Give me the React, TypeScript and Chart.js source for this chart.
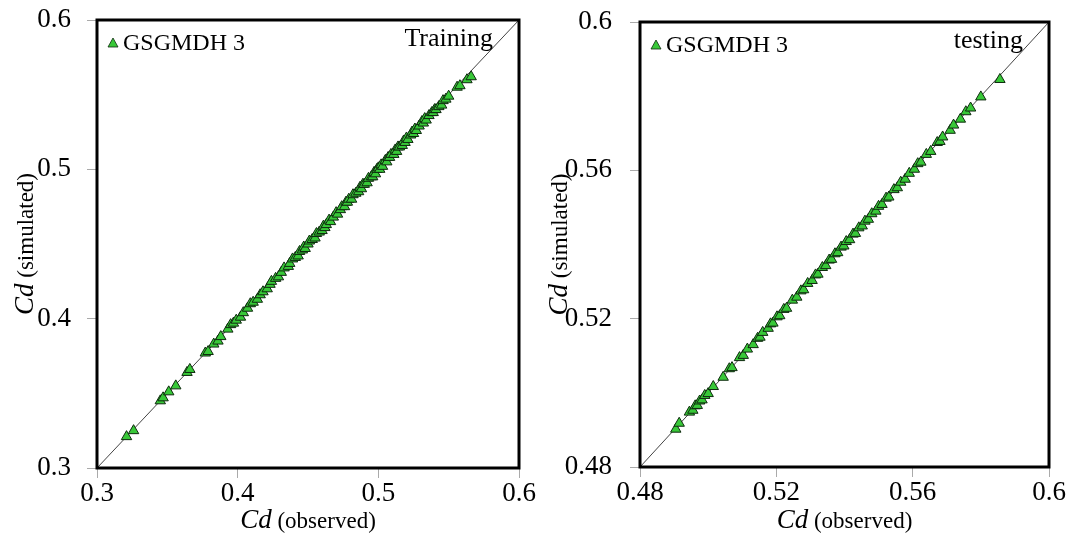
import React, { useEffect, useRef } from "react";
import { Chart, registerables } from "chart.js";

Chart.register(...registerables);

const FONT = "'Liberation Serif', 'Times New Roman', serif";

// ---------- Training panel ----------
const trainTicks = [0.3, 0.4, 0.5, 0.6];
const trainObserved = [
  0.321, 0.326, 0.345, 0.347, 0.351, 0.356, 0.364, 0.366, 0.377, 0.379,
  0.383, 0.386, 0.388, 0.393, 0.395, 0.397, 0.399, 0.402, 0.404, 0.407,
  0.409, 0.411, 0.414, 0.416, 0.418, 0.421, 0.423, 0.424, 0.427, 0.429,
  0.431, 0.433, 0.436, 0.437, 0.439, 0.441, 0.443, 0.444, 0.446, 0.447,
  0.448, 0.45, 0.451, 0.453, 0.455, 0.456, 0.458, 0.46, 0.461, 0.462,
  0.463, 0.465, 0.466, 0.468, 0.47, 0.471, 0.473, 0.474, 0.476, 0.477,
  0.478, 0.479, 0.481, 0.482, 0.484, 0.486, 0.487, 0.488, 0.489, 0.49,
  0.492, 0.493, 0.495, 0.496, 0.497, 0.498, 0.499, 0.5, 0.501, 0.502,
  0.503, 0.505, 0.506, 0.507, 0.508, 0.509, 0.511, 0.512, 0.513, 0.514,
  0.515, 0.517, 0.518, 0.519, 0.52, 0.521, 0.523, 0.524, 0.525, 0.526,
  0.527, 0.529, 0.531, 0.532, 0.533, 0.534, 0.536, 0.538, 0.539, 0.54,
  0.541, 0.543, 0.545, 0.546, 0.548, 0.55, 0.556, 0.558, 0.563, 0.566,
];
const trainSimulated = [
  0.321, 0.325, 0.345, 0.347, 0.351, 0.355, 0.364, 0.366, 0.377, 0.378,
  0.383, 0.385, 0.388, 0.393, 0.396, 0.397, 0.399, 0.401, 0.404, 0.407,
  0.41, 0.411, 0.413, 0.416, 0.418, 0.42, 0.423, 0.425, 0.427, 0.428,
  0.431, 0.434, 0.435, 0.437, 0.44, 0.441, 0.442, 0.445, 0.446, 0.448,
  0.447, 0.45, 0.452, 0.453, 0.454, 0.457, 0.458, 0.459, 0.462, 0.461,
  0.463, 0.466, 0.465, 0.468, 0.471, 0.47, 0.473, 0.475, 0.475, 0.478,
  0.478, 0.48, 0.48, 0.483, 0.484, 0.485, 0.488, 0.487, 0.49, 0.49,
  0.491, 0.494, 0.495, 0.495, 0.498, 0.497, 0.5, 0.501, 0.5, 0.503,
  0.502, 0.506, 0.505, 0.508, 0.508, 0.51, 0.51, 0.513, 0.512, 0.515,
  0.515, 0.516, 0.519, 0.518, 0.521, 0.52, 0.523, 0.525, 0.524, 0.527,
  0.526, 0.529, 0.532, 0.531, 0.534, 0.533, 0.536, 0.538, 0.538, 0.54,
  0.54, 0.542, 0.543, 0.546, 0.547, 0.549, 0.555, 0.556, 0.56, 0.562,
];

// ---------- Testing panel ----------
const testTicks = [0.48, 0.52, 0.56, 0.6];
const testObserved = [
  0.4905, 0.4915, 0.4945, 0.4955, 0.4962, 0.4968, 0.4975, 0.4982, 0.499, 0.5,
  0.5015, 0.5044, 0.5062, 0.507, 0.5092, 0.5103, 0.5115, 0.5132, 0.5145, 0.5152,
  0.516, 0.5176, 0.5183, 0.519, 0.5202, 0.521, 0.5222, 0.523, 0.5247, 0.526,
  0.5272, 0.528, 0.5292, 0.5305, 0.5315, 0.5322, 0.5335, 0.5345, 0.5355, 0.5362,
  0.5372, 0.538, 0.539, 0.5398, 0.5405, 0.5415, 0.5425, 0.5432, 0.5442, 0.5452,
  0.546, 0.547, 0.548, 0.5492, 0.55, 0.551, 0.5522, 0.553, 0.5545, 0.5555,
  0.5565, 0.5578, 0.559, 0.5605, 0.5615, 0.5624, 0.564, 0.5653, 0.5672, 0.568,
  0.5688, 0.571, 0.572, 0.574, 0.5756, 0.577, 0.58, 0.5856,
];
const testSimulated = [
  0.4902, 0.4918, 0.4948, 0.4953, 0.4965, 0.4966, 0.4978, 0.4981, 0.4993, 0.4998,
  0.5017, 0.5042, 0.5065, 0.5068, 0.5095, 0.5101, 0.5118, 0.513, 0.5147, 0.515,
  0.5163, 0.5174, 0.5186, 0.5188, 0.5205, 0.5208, 0.5225, 0.5228, 0.525, 0.5258,
  0.5275, 0.5278, 0.5295, 0.5303, 0.5318, 0.532, 0.5338, 0.5343, 0.5358, 0.536,
  0.5375, 0.5378, 0.5393, 0.5396, 0.5408, 0.5413, 0.5428, 0.543, 0.5445, 0.545,
  0.5463, 0.5468, 0.5483, 0.549, 0.5503, 0.5508, 0.5525, 0.5528, 0.5548, 0.5553,
  0.5568, 0.5576, 0.5592, 0.5603, 0.5618, 0.5622, 0.5643, 0.5651, 0.5675, 0.5678,
  0.569, 0.5708, 0.5722, 0.5738, 0.5758, 0.5768, 0.5798, 0.5845,
];

const seriesLabel = "GSGMDH 3";

type PanelCfg = {
  ticks: number[];
  observed: number[];
  simulated: number[];
  corner: string;
  width: number;
  yAxisWidth: number;
  padRight: number;
  padTop: number;
  xAxisHeight: number;
  yTickPad: number;
  yTitleX: number;
};

const GREEN = "#38c838";
const GREEN_EDGE = "#0e2a0e";

function drawMixed(ctx: CanvasRenderingContext2D, cx: number, by: number, a: string, b: string) {
  ctx.font = `italic 27px ${FONT}`;
  const w1 = ctx.measureText(a).width;
  ctx.font = `23px ${FONT}`;
  const w2 = ctx.measureText(b).width;
  const start = cx - (w1 + w2) / 2;
  ctx.textAlign = "left";
  ctx.textBaseline = "alphabetic";
  ctx.fillStyle = "#000";
  ctx.font = `italic 27px ${FONT}`;
  ctx.fillText(a, start, by);
  ctx.font = `23px ${FONT}`;
  ctx.fillText(b, start + w1, by);
}

function Panel({ cfg }: { cfg: PanelCfg }) {
  const ref = useRef<HTMLCanvasElement>(null);
  useEffect(() => {
    if (!ref.current) return;
    const lo = cfg.ticks[0];
    const hi = cfg.ticks[cfg.ticks.length - 1];
    const decor = {
      id: "decor",
      afterDraw(chart: any) {
        const ctx: CanvasRenderingContext2D = chart.ctx;
        const a = chart.chartArea;
        ctx.save();
        // frame
        ctx.strokeStyle = "#000";
        ctx.lineWidth = 3;
        ctx.strokeRect(a.left, a.top, a.right - a.left, a.bottom - a.top);
        // legend
        const mx = a.left + 16;
        const my = a.top + 23;
        ctx.beginPath();
        ctx.moveTo(mx, my - 5);
        ctx.lineTo(mx + 5, my + 4);
        ctx.lineTo(mx - 5, my + 4);
        ctx.closePath();
        ctx.fillStyle = GREEN;
        ctx.fill();
        ctx.lineWidth = 0.8;
        ctx.strokeStyle = GREEN_EDGE;
        ctx.stroke();
        ctx.fillStyle = "#000";
        ctx.font = `24px ${FONT}`;
        ctx.textAlign = "left";
        ctx.textBaseline = "middle";
        ctx.fillText(chart.data.datasets[0].label, a.left + 26, my + 1);
        // corner label
        ctx.font = `26px ${FONT}`;
        ctx.textAlign = "right";
        ctx.textBaseline = "alphabetic";
        ctx.fillText(cfg.corner, a.right - 26, a.top + 26);
        // x title
        drawMixed(ctx, (a.left + a.right) / 2, chart.height - 7, "Cd", " (observed)");
        // y title
        ctx.translate(cfg.yTitleX + 9, (a.top + a.bottom) / 2);
        ctx.rotate(-Math.PI / 2);
        drawMixed(ctx, 0, 0, "Cd", " (simulated)");
        ctx.restore();
      },
    };
    const pts = cfg.observed.map((x, i) => ({ x, y: cfg.simulated[i] }));
    const chart = new Chart(ref.current, {
      type: "scatter",
      data: {
        datasets: [
          {
            label: seriesLabel,
            data: pts,
            pointStyle: "triangle",
            pointRadius: 6,
            backgroundColor: GREEN,
            borderColor: GREEN_EDGE,
            borderWidth: 1,
          },
          {
            label: "1:1",
            data: [
              { x: lo, y: lo },
              { x: hi, y: hi },
            ],
            showLine: true,
            pointRadius: 0,
            borderColor: "#444",
            borderWidth: 1,
          },
        ],
      },
      options: {
        responsive: false,
        animation: false,
        layout: { padding: { left: 0, right: cfg.padRight, top: cfg.padTop, bottom: 0 } },
        plugins: { legend: { display: false }, tooltip: { enabled: false } },
        scales: {
          x: {
            type: "linear",
            min: lo,
            max: hi,
            afterBuildTicks: (s: any) => {
              s.ticks = cfg.ticks.map((v) => ({ value: v }));
            },
            afterFit: (s: any) => {
              s.height = cfg.xAxisHeight;
              s.paddingLeft = 0;
              s.paddingRight = 0;
              s.paddingTop = 0;
              s.paddingBottom = 0;
            },
            ticks: {
              callback: (v: any) => String(v),
              font: { family: FONT, size: 27 },
              color: "#000",
              padding: 0,
              maxRotation: 0,
            },
            grid: { drawOnChartArea: false, drawTicks: true, tickLength: 10, color: "#aaa" },
            border: { display: false },
          },
          y: {
            type: "linear",
            min: lo,
            max: hi,
            afterBuildTicks: (s: any) => {
              s.ticks = cfg.ticks.map((v) => ({ value: v }));
            },
            afterFit: (s: any) => {
              s.width = cfg.yAxisWidth;
              s.paddingLeft = 0;
              s.paddingRight = 0;
              s.paddingTop = 0;
              s.paddingBottom = 0;
            },
            ticks: {
              callback: (v: any) => String(v),
              font: { family: FONT, size: 27 },
              color: "#000",
              padding: cfg.yTickPad,
            },
            grid: { drawOnChartArea: false, drawTicks: true, tickLength: 10, color: "#aaa" },
            border: { display: false },
          },
        },
      },
      plugins: [decor],
    });
    return () => chart.destroy();
  }, [cfg]);
  return <canvas ref={ref} width={cfg.width} height={535} style={{ display: "block" }} />;
}

const leftCfg: PanelCfg = {
  ticks: trainTicks,
  observed: trainObserved,
  simulated: trainSimulated,
  corner: "Training",
  width: 540,
  yAxisWidth: 97,
  padRight: 21,
  padTop: 20,
  xAxisHeight: 67,
  yTickPad: 16,
  yTitleX: 24,
};

const rightCfg: PanelCfg = {
  ticks: testTicks,
  observed: testObserved,
  simulated: testSimulated,
  corner: "testing",
  width: 527,
  yAxisWidth: 100,
  padRight: 18,
  padTop: 22,
  xAxisHeight: 68,
  yTickPad: 18,
  yTitleX: 18,
};

export default function App() {
  return (
    <div style={{ position: "fixed", left: 0, top: 0, width: 1067, height: 535, background: "#fff", display: "flex" }}>
      <Panel cfg={leftCfg} />
      <Panel cfg={rightCfg} />
    </div>
  );
}
